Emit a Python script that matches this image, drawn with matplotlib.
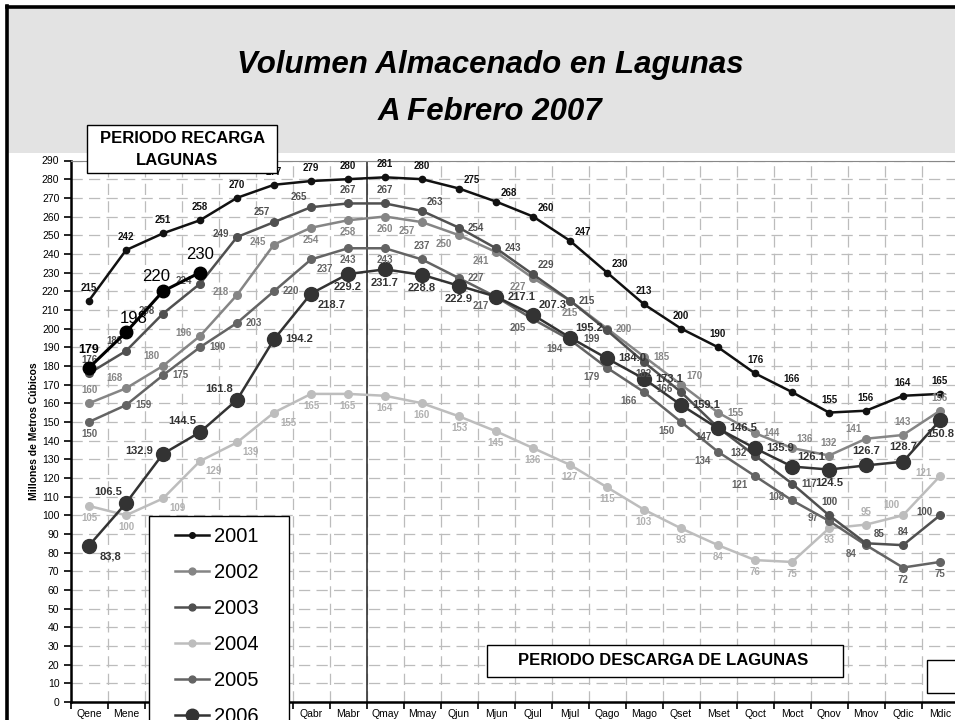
import matplotlib
matplotlib.use("Agg")
import matplotlib.pyplot as plt
from matplotlib.patches import Rectangle
from matplotlib.lines import Line2D

plt.rcParams['font.family'] = ['Liberation Sans', 'DejaVu Sans']

# ---------------- data ----------------
categories = ['Qene', 'Mene', 'Qfeb', 'Mfeb', 'Qmar', 'Mmar', 'Qabr', 'Mabr',
              'Qmay', 'Mmay', 'Qjun', 'Mjun', 'Qjul', 'Mjul', 'Qago', 'Mago',
              'Qset', 'Mset', 'Qoct', 'Moct', 'Qnov', 'Mnov', 'Qdic', 'Mdic']

v2001 = [215, 242, 251, 258, 270, 277, 279, 280, 281, 280, 275, 268,
         260, 247, 230, 213, 200, 190, 176, 166, 155, 156, 164, 165]
v2002 = [160, 168, 180, 196, 218, 245, 254, 258, 260, 257, 250, 241,
         227, 215, 200, 185, 170, 155, 144, 136, 132, 141, 143, 156]
v2003 = [176, 188, 208, 224, 249, 257, 265, 267, 267, 263, 254, 243,
         229, 215, 199, 182, 166, 147, 132, 117, 100, 85, 84, 100]
v2004 = [105, 100, 109, 129, 139, 155, 165, 165, 164, 160, 153, 145,
         136, 127, 115, 103, 93, 84, 76, 75, 93, 95, 100, 121]
v2005 = [150, 159, 175, 190, 203, 220, 237, 243, 243, 237, 227, 217,
         205, 194, 179, 166, 150, 134, 121, 108, 97, 84, 72, 75]
v2006 = [83.8, 106.5, 132.9, 144.5, 161.8, 194.2, 218.7, 229.2, 231.7, 228.8,
         222.9, 217.1, 207.3, 195.2, 184.0, 173.1, 159.1, 146.5, 135.9, 126.1,
         124.5, 126.7, 128.7, 150.8]
v2007 = [179, 198, 220, 230]

years = ['2001', '2002', '2003', '2004', '2005', '2006']
y_ticks = list(range(0, 300, 10))

# ---------------- label placement codes (style, not data) ----------------
c2001 = ['u'] * 10 + ['ur'] * 5 + ['u'] * 9
c2002 = ['u', 'ul', 'ul', 'l', 'l', 'l', 'd', 'd', 'd', 'dl', 'dl', 'dl',
         'dl', 'd', 'r', 'r', 'ur', 'r', 'r', 'ur', 'u', 'ul', 'u', 'u']
c2003 = ['u', 'ul', 'l', 'l', 'l', 'ul', 'ul', 'u', 'u', 'ur', 'r', 'r',
         'ur', 'r', 'dl', 'd', 'l', 'dl', 'l', 'r', 'u', 'ur', 'u', 'l']
c2004 = ['d', 'd', 'dr', 'dr', 'dr', 'dr'] + ['d'] * 15 + ['u', 'ul', 'l']
c2005 = ['d', 'r', 'r', 'r', 'r', 'r', 'dr', 'd', 'd', 'u', 'r', 'dl',
         'dl', 'dl', 'dl', 'dl', 'dl', 'dl', 'dl', 'l', 'l', 'dl', 'd', 'd']
c2006 = ['dr', 'ul', 'l', 'ul', 'ul', 'r', 'dr', 'd', 'd', 'd', 'd', 'r',
         'ur', 'ur', 'r', 'r', 'r', 'r', 'r', 'ur', 'd', 'u', 'u', 'd']
c2007 = ['u', 'ur', 'ul', 'u']

OFF = {'u': (0, 13), 'd': (0, -12), 'l': (-16, 3), 'r': (17, 0),
       'ul': (-12, 10), 'ur': (13, 9), 'dl': (-15, -9), 'dr': (14, -10)}

W, H, DPI = 955, 720, 100
fig = plt.figure(figsize=(W / DPI, H / DPI), dpi=DPI)
fig.patch.set_facecolor('white')

# grey title band + border
fig.patches.append(Rectangle((8 / W, 1 - 153 / H), 1, 145 / H, transform=fig.transFigure,
                             facecolor='#e3e3e3', edgecolor='none', zorder=-5))
fig.add_artist(Line2D([7 / W, 7 / W], [0, 1 - 6 / H], transform=fig.transFigure,
                      color='black', lw=2.6, zorder=10))
fig.add_artist(Line2D([7 / W, 1], [1 - 7 / H, 1 - 7 / H], transform=fig.transFigure,
                      color='black', lw=2.6, zorder=10))

fig.text(490 / W, 1 - 73 / H, 'Volumen Almacenado en Lagunas', ha='center', va='baseline',
         fontsize=22.5, fontweight='bold', fontstyle='italic')
fig.text(490 / W, 1 - 120 / H, 'A Febrero 2007', ha='center', va='baseline',
         fontsize=22.5, fontweight='bold', fontstyle='italic')

# main axes
left_px, right_px, top_px, bot_px = 70.5, 958.5, 160.5, 702
ax = fig.add_axes([left_px / W, 1 - bot_px / H, (right_px - left_px) / W, (bot_px - top_px) / H])
ax.set_facecolor('white')
x = list(range(len(categories)))
ax.set_xlim(-0.5, len(categories) - 0.5)
ax.set_ylim(0, 290)
ax.set_yticks(y_ticks)
ax.set_yticklabels([str(t) for t in y_ticks], fontsize=7.5)
ax.set_xticks(x)
ax.set_xticklabels(categories, fontsize=7.5)
ax.set_xticks([i + 0.5 for i in range(-1, len(categories))], minor=True)
ax.tick_params(axis='x', which='major', length=0, pad=5)
ax.tick_params(axis='x', which='minor', length=5, width=1.2, direction='out')
ax.tick_params(axis='y', length=5, width=1.2, direction='out', pad=3)
ax.grid(True, axis='x', which='minor', color='#bcbcbc', lw=0.9, dashes=(9, 5))
ax.grid(True, axis='y', which='major', color='#bcbcbc', lw=0.9, dashes=(9, 5))
ax.set_axisbelow(True)
for s in ['left', 'bottom']:
    ax.spines[s].set_color('black')
    ax.spines[s].set_linewidth(1.8)
ax.spines['top'].set_color('#888888')
ax.spines['top'].set_linewidth(0.8)
ax.spines['right'].set_visible(False)
ax.set_ylabel('Millones de Metros Cúbicos', fontsize=7.5, fontweight='bold', labelpad=2)

ax.axvline(7.5, color='#333333', lw=1.2, zorder=1.5)

series = [
    ('2001', v2001, '#111111', '#111111', 4.5, c2001, 7, 1.0),
    ('2002', v2002, '#858585', '#858585', 5.5, c2002, 7, 1.0),
    ('2003', v2003, '#505050', '#505050', 5.5, c2003, 7, 1.0),
    ('2004', v2004, '#bdbdbd', '#b0b0b0', 5.5, c2004, 7, 1.0),
    ('2005', v2005, '#646464', '#646464', 5.5, c2005, 7, 1.0),
    ('2006', v2006, '#333333', '#333333', 10, c2006, 8, 1.5),
]
handles = []
zorders = {'2001': 6, '2002': 3, '2003': 4, '2004': 2, '2005': 3.5, '2006': 5}
for name, vals, col, lcol, ms, codes, fs, sc in series:
    h, = ax.plot(x, vals, '-o', color=col, lw=1.8, ms=ms, label=name, zorder=zorders[name])
    handles.append(h)
    for i, v in enumerate(vals):
        if name == '2006':
            t = f"{v:.1f}"
            if i == 0:
                t = t.replace('.', ',')
        else:
            t = f"{v:g}"
        dx, dy = OFF[codes[i]]
        ax.annotate(t, (x[i], v), xytext=(dx * sc * 0.72, dy * 1.1 * 0.72 if sc > 1 else dy * 0.72),
                    textcoords='offset points', ha='center', va='center',
                    fontsize=fs, fontweight='bold', color=lcol, zorder=7)

# 2007 partial year
x7 = x[:len(v2007)]
ax.plot(x7, v2007, '-o', color='black', lw=2.2, ms=9, zorder=8)
for i, v in enumerate(v2007):
    dx, dy = OFF[c2007[i]]
    bold = (i == 0)
    ax.annotate(f"{v:g}", (x7[i], v), xytext=(dx * 0.72 * 0.6, (dy + 5) * 0.72),
                textcoords='offset points', ha='center', va='center',
                fontsize=9 if bold else 12, fontweight='bold' if bold else 'normal',
                color='black', zorder=9)

# overlay for boxes / legend
ov = fig.add_axes([0, 0, 1, 1], zorder=5)
ov.set_xlim(0, W)
ov.set_ylim(H, 0)
ov.axis('off')

ov.add_patch(Rectangle((87, 125), 190, 48, facecolor='white', edgecolor='black', lw=1.0))
ov.text(183, 143, 'PERIODO RECARGA', ha='center', va='baseline', fontsize=12, fontweight='bold')
ov.text(177, 165, 'LAGUNAS', ha='center', va='baseline', fontsize=12, fontweight='bold')

ov.add_patch(Rectangle((487, 645), 356, 32, facecolor='white', edgecolor='black', lw=1.0))
ov.text(663, 665, 'PERIODO DESCARGA DE LAGUNAS', ha='center', va='baseline',
        fontsize=12, fontweight='bold')

ov.add_patch(Rectangle((927, 660), 40, 33, facecolor='white', edgecolor='black', lw=1.0))

ov.add_patch(Rectangle((149, 516), 140, 220, facecolor='white', edgecolor='black', lw=1.0))
leg = ov.legend(handles, years, loc='upper left', bbox_to_anchor=(161 / W, 1 - 513 / H),
                bbox_transform=fig.transFigure, frameon=False, fontsize=14.5,
                handlelength=1.7, handletextpad=0.25, labelspacing=0.84, borderpad=0.2,
                markerscale=0.9)

fig.savefig('out.png', dpi=DPI)
